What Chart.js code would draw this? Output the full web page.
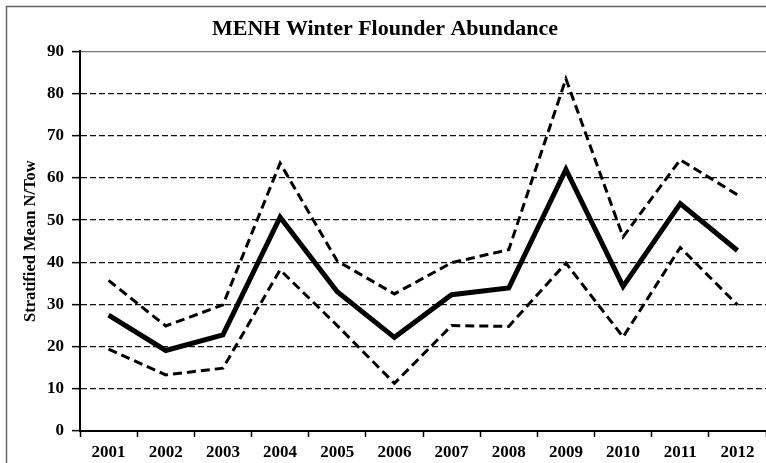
<!DOCTYPE html>
<html>
<head>
<meta charset="utf-8">
<script src="https://cdn.jsdelivr.net/npm/chart.js@4"></script>
<style>
  html, body { margin: 0; padding: 0; background: #fff; }
  #wrap { width: 766px; height: 463px; }
</style>
</head>
<body>
<div id="wrap"><canvas id="myChart" width="766" height="463"></canvas></div>
<script>
// Data
const years = ['2001', '2002', '2003', '2004', '2005', '2006', '2007', '2008', '2009', '2010', '2011', '2012'];
const meanTow = [27.5, 19.1, 22.8, 50.7, 33.0, 22.2, 32.3, 33.9, 62.0, 34.3, 53.9, 42.8];
const upperCI = [35.7, 24.9, 29.9, 63.5, 40.3, 32.5, 39.9, 43.0, 83.5, 46.0, 64.3, 56.0];
const lowerCI = [19.4, 13.3, 14.9, 38.2, 25.0, 11.3, 25.0, 24.8, 39.8, 22.3, 43.5, 29.9];

const serif = '"Liberation Serif", "Times New Roman", serif';

// Thin grey frame round the whole picture
const framePlugin = {
    id: 'frame',
    beforeDraw(chart) {
        const ctx = chart.ctx;
        ctx.save();
        ctx.fillStyle = '#fff';
        ctx.fillRect(0, 0, chart.width, chart.height);
        ctx.strokeStyle = '#666';
        ctx.lineWidth = 1.5;
        ctx.strokeRect(6.5, 6.5, chart.width + 20, chart.height + 20);
        ctx.restore();
    }
};

const ctx = document.getElementById('myChart').getContext('2d');
new Chart(ctx, {
    type: 'line',
    data: {
        labels: years,
        datasets: [{
            label: 'Mean',
            data: meanTow,
            borderColor: '#000',
            borderWidth: 5,
            pointRadius: 0,
            tension: 0
        }, {
            label: 'Upper',
            data: upperCI,
            borderColor: '#000',
            borderWidth: 3,
            borderDash: [9, 5],
            pointRadius: 0,
            tension: 0
        }, {
            label: 'Lower',
            data: lowerCI,
            borderColor: '#000',
            borderWidth: 3,
            borderDash: [9, 5],
            pointRadius: 0,
            tension: 0
        }]
    },
    options: {
        responsive: false,
        animation: false,
        layout: { padding: { left: 0, right: -4, top: 0, bottom: 0 } },
        plugins: {
            legend: { display: false },
            tooltip: { enabled: false },
            title: {
                display: true,
                text: 'MENH Winter Flounder Abundance',
                color: '#000',
                font: { family: serif, size: 22, weight: 'bold' },
                padding: { top: 16, bottom: 9 }
            }
        },
        scales: {
            x: {
                offset: true,
                afterFit(scale) { scale.height = 32; },
                grid: {
                    offset: true,
                    drawOnChartArea: false,
                    drawTicks: true,
                    tickLength: 6,
                    tickColor: '#000',
                    tickWidth: 1.5
                },
                border: { display: true, color: '#000', width: 2 },
                ticks: {
                    color: '#000',
                    padding: 5,
                    maxRotation: 0,
                    font: { family: serif, size: 17, weight: 'bold' }
                }
            },
            y: {
                min: 0,
                max: 90,
                afterFit(scale) { scale.width = 80; },
                grid: {
                    color(c) {
                        return c.tick && c.tick.value === 90 ? '#777' : '#111';
                    },
                    lineWidth: 1.3,
                    tickLength: 8,
                    tickColor: '#000',
                    tickWidth: 1.5
                },
                border: {
                    display: true,
                    color: '#000',
                    width: 2,
                    dash(c) {
                        return c.tick && c.tick.value === 90 ? [] : [6, 3];
                    }
                },
                ticks: {
                    stepSize: 10,
                    color: '#000',
                    padding: 8,
                    font: { family: serif, size: 17, weight: 'bold' }
                },
                title: {
                    display: true,
                    text: 'Stratified Mean N/Tow',
                    color: '#000',
                    padding: { top: 21, bottom: 0 },
                    font: { family: serif, size: 16.5, weight: 'bold' }
                }
            }
        }
    },
    plugins: [framePlugin]
});
</script>
</body>
</html>
